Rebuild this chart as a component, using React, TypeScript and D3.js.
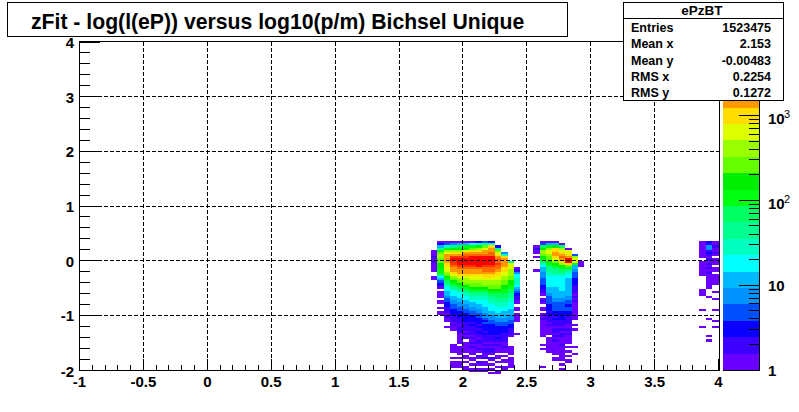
import React from "react";
import * as d3 from "d3";

// ---- data -----------------------------------------------------------------
// Each column is a histogram column; each character is the colour-contour level
// of a bin, from the top row downward (blank = empty bin). 0-9 then a-j = 0..19.
const blobA = { start: 1.75, columns: [
  "    000101" + "0000  00",
  "0258acddcc" + "bbbaa86532" + "10 000 00 " + "0 00",
  "037adegggg" + "ffeedcba98" + "7665543322" + "1110100  0",
  "048bdfgiji" + "ihggfedcba" + "9876655443" + "3222111010" + "0      000" + "0  0 000",
  "059bdfgijj" + "jihggfedcb" + "a987665544" + "3322211101" + "1100000 00" + "00 0 000",
  "05abeghijj" + "jihggfeddc" + "ba98766554" + "4332222111" + "10101 0000" + "0 00 0 00",
  "06acfghjjj" + "jihggfeedc" + "cba9877655" + "4433222121" + "1110101010" + "00 00 0 00",
  "27bdfghjjj" + "jjhggfeedc" + "cba9877665" + "5443322212" + "1211011001" + "0 10 10 00",
  "38cegghjjj" + "jihhgffedd" + "cba9877666" + "5554432322" + "2121110101" + "1001 00 00",
  "27fgghhjjj" + "jihhgffedd" + "ccba988776" + "6655443322" + "2221110101" + "10 10 0 0 0",
  "  28cefghh" + "ihhgffeedd" + "ccba998877" + "6665544332" + "2221210100" + "0 00 0 0 00",
  "     47fgg" + "ggffeeddcc" + "bbaa998877" + "6655544332" + "2211110010" + "0 0 00 00",
  "         8" + "eeedddccbb" + "aa99887766" + "6555443322" + "1110    00" + "00 00000",
  "          " + "  01466777" + "654321100 " + "00 0000   " + "  0",
] };
const blobB = { start: 2.55, columns: [
  "  0100 0  " + "   0",
  "039bddcba9" + "7655444333" + "22110 010 " + "00 0010000" + "0000   0 0" + "       0",
  "05adeedccb" + "a988776666" + "6555433332" + "2212111010" + "000 000000" + "0",
  "05bffggfec" + "ba98876666" + "6555554433" + "3322121110" + "1101010000" + "00 00",
  " 09defghgf" + "dba9876666" + "6665554433" + "3322221110" + "1011000100" + "00000 0 0",
  "   0eefgjj" + "fca8766555" + "5555544332" + "3322111100" + "1010000 0 " + "0 0 00",
  "      3dee" + "a554333222" + "1111010100" + "000000  0 " + "0       0 " + " 0",
  "         0" + "00",
] };
const blobC = { start: 3.85, columns: [
  "00000000 0" + "000000    " + "  000     " + " 0       0",
  "2144121010" + "1010100000" + "00   0    " + "     0    " + "   0 0",
  "0010010 00" + "0 00 00000" + "   0  0   " + " 0    0  0",
] };
const blobs = [blobA, blobB, blobC];

const palette = [
  "#6a00ff", "#3c00ff", "#0a00ff", "#0050ff", "#0090ff", "#00b8ff", "#00ffff",
  "#00ffc0", "#00ff90", "#00ff60", "#00ff10", "#00ee00", "#66ff00", "#99ff00",
  "#ddff00", "#ffdd00", "#ff9900", "#ff6600", "#ff3300", "#ff0000",
];

const xTicks = [-1, -0.5, 0, 0.5, 1, 1.5, 2, 2.5, 3, 3.5, 4];
const xTickLabels = ["-1", "-0.5", "0", "0.5", "1", "1.5", "2", "2.5", "3", "3.5", "4"];
const yTicks = [-2, -1, 0, 1, 2, 3, 4];
const xMinor = [-0.9,-0.8,-0.7,-0.6,-0.4,-0.3,-0.2,-0.1,0.1,0.2,0.3,0.4,0.6,0.7,0.8,0.9,1.1,1.2,1.3,1.4,1.6,1.7,1.8,1.9,2.1,2.2,2.3,2.4,2.6,2.7,2.8,2.9,3.1,3.2,3.3,3.4,3.6,3.7,3.8,3.9];
const yMinor = [-1.8,-1.6,-1.4,-1.2,-0.8,-0.6,-0.4,-0.2,0.2,0.4,0.6,0.8,1.2,1.4,1.6,1.8,2.2,2.4,2.6,2.8,3.2,3.4,3.6,3.8];
const zMajor = [1, 10, 100, 1000];
const zMinor = [2,3,4,5,6,7,8,9,20,30,40,50,60,70,80,90,200,300,400,500,600,700,800,900,2000,3000];

const titleText = "zFit - log(l(eP)) versus log10(p/m) Bichsel Unique";
const statsName = "ePzBT";
const statsRows = [
  ["Entries", "1523475"],
  ["Mean x", "2.153"],
  ["Mean y", "-0.00483"],
  ["RMS x", "0.2254"],
  ["RMS y", "0.1272"],
];

// ---- scales ---------------------------------------------------------------
const FONT = "'Liberation Sans', Arial, sans-serif";
const x = d3.scaleLinear().domain([-1, 4]).range([79.5, 718.5]);
const y = d3.scaleLinear().domain([-2, 4]).range([370, 42]);
const zy = d3.scaleLog().domain([1, 1000]).range([370, 115.5]);
const BIN_X = 0.05;
const BIN_Y = 0.04;
const TOP_Y = 0.36;
const pal = d3.scaleLinear().domain([0, 20]).range([370, 42]);

const cells = blobs.flatMap((b) =>
  b.columns.flatMap((col, i) =>
    col.split("").flatMap((ch, t) => {
      if (ch === " ") return [];
      return [{
        x0: b.start + i * BIN_X,
        yTop: TOP_Y - t * BIN_Y,
        level: parseInt(ch, 36),
      }];
    })
  )
);

export default function App() {
  return (
    <svg width={799} height={412} viewBox="0 0 799 412"
      style={{ position: "absolute", left: 0, top: 0, background: "#fff" }} fontFamily={FONT} fontWeight="bold">
      <g shapeRendering="crispEdges">
        {cells.map((c, i) => (
          <rect key={i} x={x(c.x0)} width={x(c.x0 + BIN_X) - x(c.x0)}
            y={y(c.yTop)} height={y(c.yTop - BIN_Y) - y(c.yTop)} fill={palette[c.level]} />
        ))}
      </g>
      <g stroke="#000" strokeDasharray="4 2" shapeRendering="crispEdges">
        {xTicks.slice(1, -1).map((t) => <line key={t} x1={x(t)} x2={x(t)} y1={42} y2={370} />)}
        {yTicks.slice(1, -1).map((t) => <line key={t} x1={80} x2={719} y1={y(t)} y2={y(t)} />)}
      </g>
      <g stroke="#000" shapeRendering="crispEdges">
        <rect x={79.5} y={41.5} width={639.5} height={328.5} fill="none" />
        <line x1={79.5} x2={719} y1={370.5} y2={370.5} />
        {xTicks.map((t) => <line key={t} x1={x(t)} x2={x(t)} y1={370} y2={359} />)}
        {xMinor.map((t) => <line key={t} x1={x(t)} x2={x(t)} y1={370} y2={364.5} />)}
        {yTicks.map((t) => <line key={t} x1={80} x2={100} y1={y(t)} y2={y(t)} />)}
        {yMinor.map((t) => <line key={t} x1={80} x2={90} y1={y(t)} y2={y(t)} />)}
      </g>
      <g fontSize={15} fill="#000" textAnchor="middle">
        {xTicks.map((t, i) => <text key={t} x={x(t)} y={387}>{xTickLabels[i]}</text>)}
      </g>
      <g fontSize={15} fill="#000" textAnchor="end">
        {yTicks.map((t) => <text key={t} x={74} y={y(t) + (t === -2 ? 7 : 6)}>{t}</text>)}
      </g>

      {/* palette */}
      <g shapeRendering="crispEdges">
        {palette.map((c, i) => (
          <rect key={i} x={723} width={36} y={pal(i + 1)} height={pal(i) - pal(i + 1)} fill={c} />
        ))}
      </g>
      <g stroke="#000" shapeRendering="crispEdges">
        <line x1={759.5} x2={759.5} y1={42} y2={370.5} />
        <line x1={723} x2={760} y1={370.5} y2={370.5} />
        {zMajor.map((z) => <line key={z} x1={739} x2={759} y1={zy(z)} y2={zy(z)} />)}
        {zMinor.map((z) => <line key={z} x1={749} x2={759} y1={zy(z)} y2={zy(z)} />)}
      </g>
      <g fontSize={15} fill="#000">
        <text x={768} y={376}>1</text>
        <text x={768} y={291}>10</text>
        <text x={768} y={209}>10</text>
        <text x={784} y={203} fontSize={11} fontWeight="normal">2</text>
        <text x={768} y={124}>10</text>
        <text x={784} y={118} fontSize={11} fontWeight="normal">3</text>
      </g>

      {/* title */}
      <rect x={7.5} y={2.5} width={560} height={34} fill="#fff" stroke="#000" shapeRendering="crispEdges" />
      <text x={31} y={28.5} fontSize={21.2} fill="#000">{titleText}</text>

      {/* stats */}
      <rect x={623.5} y={2.5} width={160} height={97.5} fill="#fff" stroke="#000" shapeRendering="crispEdges" />
      <line x1={623.5} x2={783.5} y1={18.5} y2={18.5} stroke="#000" shapeRendering="crispEdges" />
      <text x={702} y={15} fontSize={13.5} textAnchor="middle" fill="#000">{statsName}</text>
      {statsRows.map(([k, v], i) => (
        <g key={k} fontSize={12.5} fill="#000">
          <text x={631} y={32 + i * 16.3}>{k}</text>
          <text x={771} y={32 + i * 16.3} textAnchor="end">{v}</text>
        </g>
      ))}
    </svg>
  );
}
